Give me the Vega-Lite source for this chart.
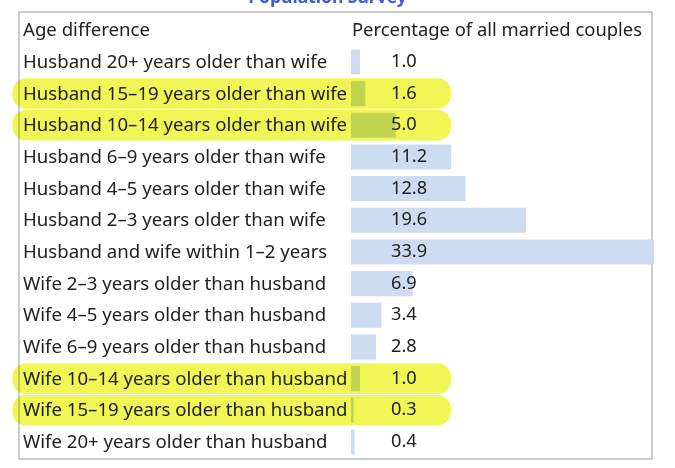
{
  "$schema": "https://vega.github.io/schema/vega-lite/v6.json",
  "width": 633,
  "height": 447,
  "autosize": {"type": "none"},
  "padding": {"left": 19, "top": 12, "right": 23, "bottom": 9},
  "background": "white",
  "config": {
    "view": {"stroke": "#b9bdc2", "strokeWidth": 1.5, "fill": "white"},
    "font": "Noto Sans"
  },
  "title": {
    "text": "Population Survey",
    "color": "#3b5bd8",
    "fontSize": 17.5,
    "fontWeight": "bold",
    "font": "Noto Sans",
    "anchor": "middle",
    "baseline": "alphabetic",
    "offset": -8,
    "dx": -8
  },
  "datasets": {
    "rows": [
      {"row": 1, "label": "Husband 20+ years older than wife", "pct": 1.0, "hl": false},
      {"row": 2, "label": "Husband 15–19 years older than wife", "pct": 1.6, "hl": true},
      {"row": 3, "label": "Husband 10–14 years older than wife", "pct": 5.0, "hl": true},
      {"row": 4, "label": "Husband 6–9 years older than wife", "pct": 11.2, "hl": false},
      {"row": 5, "label": "Husband 4–5 years older than wife", "pct": 12.8, "hl": false},
      {"row": 6, "label": "Husband 2–3 years older than wife", "pct": 19.6, "hl": false},
      {"row": 7, "label": "Husband and wife within 1–2 years", "pct": 33.9, "hl": false},
      {"row": 8, "label": "Wife 2–3 years older than husband", "pct": 6.9, "hl": false},
      {"row": 9, "label": "Wife 4–5 years older than husband", "pct": 3.4, "hl": false},
      {"row": 10, "label": "Wife 6–9 years older than husband", "pct": 2.8, "hl": false},
      {"row": 11, "label": "Wife 10–14 years older than husband", "pct": 1.0, "hl": true},
      {"row": 12, "label": "Wife 15–19 years older than husband", "pct": 0.3, "hl": true},
      {"row": 13, "label": "Wife 20+ years older than husband", "pct": 0.4, "hl": false}
    ],
    "header": [
      {"row": 0, "left": "Age difference", "right": "Percentage of all married couples"}
    ]
  },
  "layer": [
    {
      "data": {"name": "rows"},
      "mark": {"type": "bar", "color": "#cddcf0", "clip": false},
      "encoding": {
        "y": {"field": "row", "type": "ordinal", "axis": null,
              "scale": {"domain": [0,1,2,3,4,5,6,7,8,9,10,11,12,13], "paddingInner": 0.21, "paddingOuter": 0.1625, "align": 0.56}},
        "x": {"field": "pct", "type": "quantitative", "axis": null,
              "scale": {"domain": [-37.15, 33.68], "nice": false, "zero": false}}
      }
    },
    {
      "data": {"name": "rows"},
      "transform": [{"filter": "datum.hl"}],
      "mark": {"type": "bar", "color": "#f0f544", "opacity": 0.9, "blend": "multiply", "cornerRadius": 14, "height": {"band": 1.22}, "clip": false},
      "encoding": {
        "y": {"field": "row", "type": "ordinal"},
        "x": {"datum": -37.9},
        "x2": {"datum": 11.2}
      }
    },
    {
      "data": {"name": "rows"},
      "mark": {"type": "text", "align": "left", "baseline": "middle", "fontSize": 18.6, "color": "#202122"},
      "encoding": {
        "y": {"field": "row", "type": "ordinal"},
        "x": {"datum": -36.7},
        "text": {"field": "label"}
      }
    },
    {
      "data": {"name": "rows"},
      "mark": {"type": "text", "align": "left", "baseline": "middle", "fontSize": 18.2, "color": "#202122"},
      "encoding": {
        "y": {"field": "row", "type": "ordinal"},
        "x": {"datum": 4.475},
        "text": {"field": "pct", "format": ".1f"}
      }
    },
    {
      "data": {"name": "header"},
      "mark": {"type": "text", "align": "left", "baseline": "middle", "fontSize": 18.6, "color": "#202122"},
      "encoding": {
        "y": {"field": "row", "type": "ordinal"},
        "x": {"datum": -36.7},
        "text": {"field": "left"}
      }
    },
    {
      "data": {"name": "header"},
      "mark": {"type": "text", "align": "left", "baseline": "middle", "fontSize": 18.4, "color": "#202122"},
      "encoding": {
        "y": {"field": "row", "type": "ordinal"},
        "x": {"datum": 0.11},
        "text": {"field": "right"}
      }
    }
  ]
}
